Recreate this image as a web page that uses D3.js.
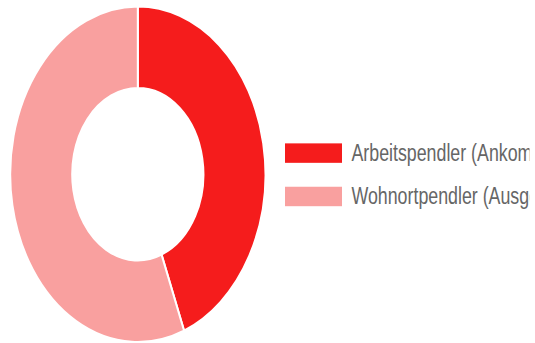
<!DOCTYPE html>
<html>
<head>
<meta charset="utf-8">
<script src="https://cdn.jsdelivr.net/npm/d3@7"></script>
<style>
  html, body { margin: 0; padding: 0; background: #fff; }
  svg { display: block; }
</style>
</head>
<body>
<svg id="chart" width="535" height="343"></svg>
<script>
// Pendler shares (percent)
const categories = ["Arbeitspendler (Ankommende)", "Wohnortpendler (Ausgehende)"];
const values = [44.1, 55.9];
const colors = ["#f51c1c", "#f9a09f"];

const W = 535, H = 343;
const baseH = 261;            // drawing height before vertical stretch
const sy = H / baseH;

const svg = d3.select("#chart");

svg.append("defs").append("clipPath").attr("id", "legendClip")
  .append("rect").attr("x", 0).attr("y", 0).attr("width", 529.5).attr("height", baseH);

const root = svg.append("g").attr("transform", `scale(1,${sy})`);

const cx = 137.8, cy = 132.6, outerR = 127.6, innerR = 65.6;

const pie = d3.pie().sort(null).value(d => d)(values);
const arc = d3.arc().innerRadius(innerR).outerRadius(outerR);

root.append("g")
  .attr("transform", `translate(${cx},${cy})`)
  .selectAll("path")
  .data(pie)
  .join("path")
  .attr("d", arc)
  .attr("fill", (d, i) => colors[i])
  .attr("stroke", "#fff")
  .attr("stroke-width", 2)
  .attr("vector-effect", "non-scaling-stroke");

// Legend
const legend = root.append("g").attr("clip-path", "url(#legendClip)");
const item = legend.selectAll("g")
  .data(categories)
  .join("g")
  .attr("transform", (d, i) => `translate(285,${109.1 + i * 33})`);

item.append("rect")
  .attr("width", 57)
  .attr("height", 14.8)
  .attr("fill", (d, i) => colors[i]);

item.append("text")
  .attr("x", 66.5)
  .attr("y", 13.2)
  .attr("font-family", "'Liberation Sans', Arial, sans-serif")
  .attr("font-size", 17.8)
  .attr("fill", "#666")
  .text(d => d);
</script>
</body>
</html>
